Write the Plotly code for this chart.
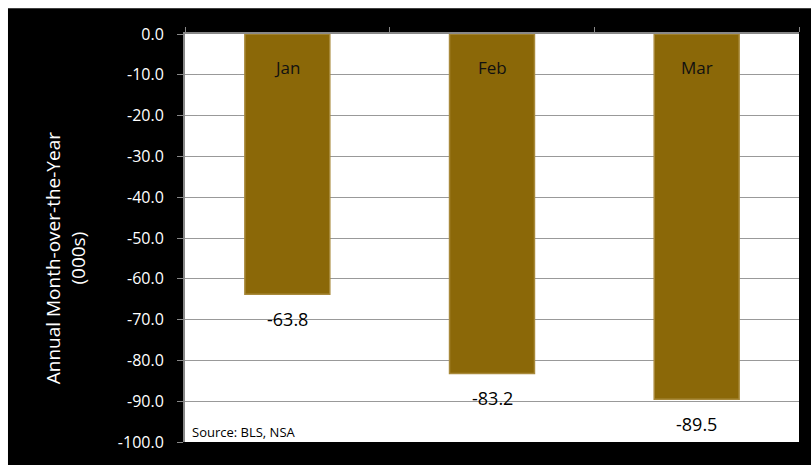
import plotly.graph_objects as go

months = ["Jan", "Feb", "Mar"]
values = [-63.8, -83.2, -89.5]
value_labels = ["-63.8", "-83.2", "-89.5"]
y_ticks = [0, -10, -20, -30, -40, -50, -60, -70, -80, -90, -100]
y_tick_labels = ["0.0", "-10.0", "-20.0", "-30.0", "-40.0", "-50.0",
                 "-60.0", "-70.0", "-80.0", "-90.0", "-100.0"]

FONT = "Open Sans, Noto Sans, sans-serif"

fig = go.Figure()
fig.add_trace(go.Bar(
    x=months, y=values, width=0.415,
    marker=dict(color="#8B6808", line=dict(color="#a8893a", width=1.5)),
    hoverinfo="skip",
))

ann = []
for m, v, t in zip(months, values, value_labels):
    ann.append(dict(x=m, y=v - 6, text=t, showarrow=False, xref="x", yref="y",
                    font=dict(family=FONT, size=18, color="black"), yanchor="middle"))
    ann.append(dict(x=m, y=-8.2, text=m, showarrow=False, xref="x", yref="y",
                    font=dict(family=FONT, size=17, color="#111"), yanchor="middle"))
ann.append(dict(x=0.008, y=0, xref="paper", yref="paper", text="Source: BLS, NSA",
                showarrow=False, xanchor="left", yanchor="bottom", yshift=-1,
                font=dict(family=FONT, size=13, color="black")))
ann.append(dict(x=-0.194, y=0.45, xref="paper", yref="paper", xanchor="center",
                yanchor="middle",
                text="Annual Month-over-the-Year<br>(000s)", textangle=-90,
                showarrow=False, font=dict(family=FONT, size=19, color="white")))

shapes = [
    dict(type="rect", xref="paper", yref="paper", x0=-0.31, x1=-0.2883, y0=-0.1, y1=1.1,
         fillcolor="white", line=dict(width=0)),
    dict(type="rect", xref="paper", yref="paper", x0=-0.31, x1=1.1, y0=1.063, y1=1.1,
         fillcolor="white", line=dict(width=0)),
]

fig.update_layout(
    width=811, height=465,
    margin=dict(l=185, r=12, t=34, b=18),
    paper_bgcolor="black", plot_bgcolor="white",
    showlegend=False, bargap=0.585,
    annotations=ann, shapes=shapes,
    xaxis=dict(side="top", showticklabels=False, tickson="boundaries", ticks="outside",
               ticklen=5, tickcolor="#888", showline=True, linecolor="#888", linewidth=2,
               showgrid=False, zeroline=False, range=[-0.5, 2.5]),
    yaxis=dict(range=[-100, 0], tickvals=y_ticks, ticktext=y_tick_labels, ticks="outside",
               ticklen=6, tickcolor="#888", showline=True, linecolor="#888", linewidth=2,
               gridcolor="#999", gridwidth=1, zeroline=False, ticklabelstandoff=10,
               tickfont=dict(family=FONT, size=16, color="white")),
)

fig.write_html("out.html")
